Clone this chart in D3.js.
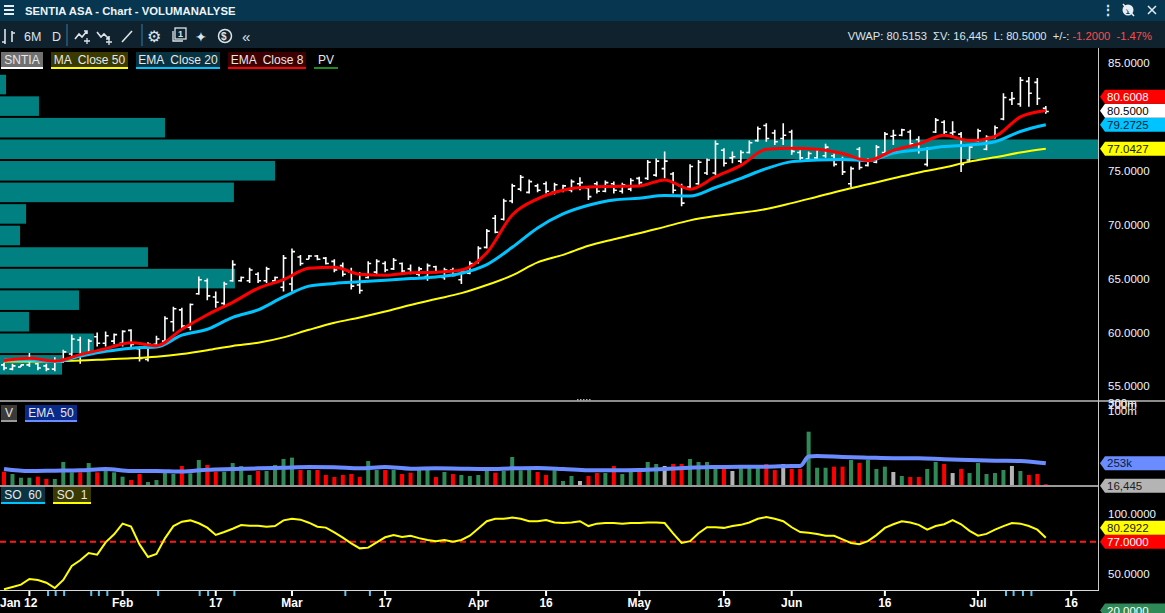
<!DOCTYPE html>
<html>
<head>
<meta charset="utf-8">
<script src="https://cdn.jsdelivr.net/npm/d3@7"></script>
<style>
  body { margin: 0; background: #000; overflow: hidden; }
  svg { display: block; }
  text { font-family: "Liberation Sans", Arial, sans-serif; white-space: pre; }
</style>
</head>
<body>
<div id="chart"></div>
<script>
// SENTIA ASA daily chart, 6M – bars indexed 0..123

const opens = [
  57.0,56.6,56.8,57.0,57.1,56.9,56.6,57.3,58.0,59.3,
  58.0,59.6,59.0,59.2,59.0,60.2,58.5,57.5,58.9,59.2,
  61.0,62.1,60.5,63.6,64.8,63.3,62.7,64.8,64.8,64.8,
  65.4,64.8,64.8,64.2,64.5,67.0,66.8,67.1,66.9,66.6,
  66.2,65.6,64.4,65.1,65.6,66.4,65.9,66.4,65.9,65.4,
  65.2,66.1,65.1,65.8,64.9,65.5,66.5,67.9,70.6,70.5,
  72.2,73.3,73.0,73.6,73.8,73.0,73.1,73.2,73.8,73.4,
  73.8,73.1,73.8,73.1,73.3,74.3,74.3,74.6,75.2,74.7,
  73.6,73.5,73.8,74.8,74.8,76.9,76.2,75.9,76.7,77.8,
  79.2,78.5,78.0,78.6,76.7,76.1,76.2,76.4,76.4,76.0,
  73.8,77.0,75.5,75.8,76.7,78.2,78.3,78.6,77.9,75.6,
  78.6,79.5,78.5,78.4,76.0,77.8,77.0,78.1,79.8,81.6,
  81.2,83.3,83.2,80.8
];
const highs = [
  57.2,57.1,57.0,58.1,57.2,57.1,57.7,58.4,59.8,59.6,
  59.4,60.0,60.1,59.9,60.2,60.3,58.7,59.1,59.7,61.5,
  62.4,62.3,62.7,65.2,65.0,63.8,64.7,66.7,65.2,66.0,
  65.6,66.1,65.2,67.2,67.8,67.2,67.2,67.2,67.0,66.8,
  66.5,66.0,65.6,66.6,66.8,66.6,66.9,66.5,66.3,66.1,
  66.4,66.2,66.0,66.0,65.9,66.6,68.0,69.6,70.9,72.4,
  73.8,74.6,74.2,73.8,74.0,73.9,73.7,74.2,74.4,73.6,
  74.0,74.1,74.0,73.9,74.3,74.45,76.0,76.15,76.8,74.9,
  73.8,75.6,76.0,76.15,77.8,77.1,76.8,76.9,77.8,79.1,
  79.4,78.8,79.4,78.8,76.9,76.8,77.1,77.5,76.6,76.3,
  75.4,77.2,76.15,77.4,78.6,78.8,78.9,78.8,78.2,77.2,
  79.9,79.7,79.6,78.6,77.4,78.9,78.3,79.2,82.2,82.3,
  83.7,83.7,83.6,81.0
];
const lows = [
  56.5,56.5,56.8,56.8,56.5,56.4,56.4,57.2,57.6,57.1,
  57.9,58.7,58.7,58.9,58.7,58.5,57.3,57.3,58.7,59.0,
  60.1,60.4,60.2,63.5,63.0,62.3,62.4,64.7,64.7,64.6,
  64.6,64.6,64.7,63.8,63.8,66.2,66.8,66.7,66.3,65.6,
  65.2,64.0,63.6,65.0,65.4,65.6,65.8,65.5,65.4,65.2,
  64.8,65.5,64.9,65.2,64.5,65.4,66.4,67.8,69.2,70.4,
  72.0,73.1,72.9,73.0,72.9,72.8,73.0,73.0,73.2,72.3,
  72.9,73.0,72.9,72.9,73.1,73.7,74.15,74.45,74.3,72.9,
  71.7,73.4,73.7,74.6,74.6,75.4,75.7,75.7,76.6,77.7,
  77.7,77.4,77.4,76.5,76.0,76.0,76.0,76.2,75.4,74.6,
  73.5,75.1,75.4,75.7,76.5,77.4,78.2,77.2,76.6,75.4,
  78.5,78.3,78.2,74.9,75.8,77.7,76.9,78.0,79.7,81.1,
  80.95,80.95,81.1,80.3
];
const closes = [
  56.7,56.9,57.0,57.6,56.7,56.6,57.3,58.2,59.4,57.8,
  59.2,59.0,59.7,59.8,60.1,58.9,57.6,58.9,59.4,61.3,
  62.2,60.6,62.6,64.9,63.4,62.8,64.5,66.3,65.1,65.8,
  64.8,65.9,65.1,66.9,67.5,66.4,67.1,66.8,66.4,65.8,
  65.4,64.3,63.9,66.4,66.6,65.8,66.7,65.7,65.5,65.9,
  66.2,65.6,65.8,65.3,65.7,66.4,67.8,69.4,69.3,72.2,
  73.6,74.4,74.0,73.2,73.1,73.7,73.6,74.0,73.9,72.6,
  73.1,73.9,73.2,73.7,74.1,73.9,75.8,75.9,75.9,73.2,
  72.0,75.4,75.8,76.0,77.5,75.7,76.3,76.7,77.6,78.9,
  78.0,77.7,78.3,76.8,76.2,76.6,76.9,77.2,75.6,74.9,
  75.2,75.3,76.0,77.2,78.4,78.3,78.8,77.5,76.9,77.0,
  79.7,78.6,78.6,75.6,77.2,78.7,78.1,79.0,81.8,81.7,
  83.4,82.2,81.7,80.5
];

// moving averages, read every third bar
const lineIdx = [0,3,6,9,12,15,18,21,24,27,30,33,36,39,42,45,48,51,54,57,60,63,66,69,72,75,78,81,84,87,90,93,96,99,102,105,108,111,114,117,120,123];
const ema8 = [57.4,57.6,57.35,57.95,58.5,59.05,58.78,60.3,61.65,62.8,64.1,64.9,65.95,66.05,65.4,65.3,65.55,65.6,65.8,67.4,70.9,72.4,73.2,73.5,73.55,73.6,74.15,73.3,74.45,75.5,77.0,77.1,77.0,76.6,75.95,76.9,77.5,78.3,77.8,78.2,80.0,80.6];
const ema20 = [57.45,57.45,57.3,57.8,58.25,58.55,58.65,59.75,60.3,61.4,62.1,63.3,64.3,64.55,64.7,64.85,65.0,65.15,65.5,66.3,67.9,69.7,71.0,71.8,72.3,72.45,72.7,72.66,73.45,74.3,75.2,75.85,76.0,76.05,75.94,76.65,76.95,77.25,77.4,77.7,78.65,79.27];
const ma50 = [57.3,57.3,57.35,57.4,57.5,57.6,57.75,58.0,58.35,58.75,59.05,59.55,60.25,60.9,61.4,61.95,62.55,63.1,63.65,64.4,65.3,66.5,67.2,68.05,68.65,69.2,69.8,70.4,70.8,71.1,71.45,72.0,72.6,73.2,73.75,74.3,74.85,75.3,75.85,76.25,76.7,77.04];

// volume (thousands) and up/down/unchanged flag per bar
const volumes = [
  158,132,90,90,102,76,76,268,151,151,
  256,151,177,151,102,64,132,42,64,151,
  132,222,140,290,234,158,158,256,222,121,
  166,166,234,302,317,177,177,177,121,98,
  121,132,98,279,177,177,177,132,147,189,
  189,98,155,132,121,110,121,174,147,166,
  324,174,189,155,121,174,53,110,53,110,
  143,143,223,132,166,166,268,245,223,245,
  245,302,268,268,211,211,166,211,211,211,
  245,177,245,189,189,610,203,203,215,215,
  290,256,290,189,215,155,110,98,98,189,
  268,245,143,189,143,256,132,143,177,223,
  166,121,132,16.445
];
const volDir = "rgggrrgggr" + "grgggrrggg" + "grggrrgggg" + "rggggrgrrr" + "rrrggrgrrg" +
               "grgrggggrg" + "gggrrgggnr" + "rgrggrggnr" + "rggggrnggg" + "rrnrrgggrr" +
               "grgggngrrg" + "grnrgggggn" + "grrr";
const volEmaIdx = [0,3,6,9,12,15,18,21,24,27,30,33,36,39,42,45,48,51,54,57,60,63,66,69,72,75,78,81,84,87,90,93,94,95,96,99,102,105,108,111,114,117,120,123];
const volEma = [189,166,170,174,189,166,166,159,181,189,196,204,211,208,196,211,192,196,192,189,196,200,189,174,174,177,189,204,211,215,215,223,223,330,336,325,317,310,310,298,291,283,279,253];

// stochastic oscillator
const stoch = [
  37.6,39.5,41.4,46.1,45.3,43.0,38.6,45.3,56.9,61.6,
  67.7,66.3,76.5,83.2,92.0,89.5,74.8,64.3,66.8,79.8,
  90.0,93.6,94.7,92.3,88.7,82.6,85.1,87.8,90.9,90.3,
  90.3,89.5,90.0,94.7,96.1,95.3,92.8,89.5,88.7,84.8,
  80.4,75.7,71.5,72.1,76.5,80.7,82.6,81,82,80,
  78.5,77.5,78.5,77,78.5,82,88,94,96,96,
  97,96,94,94,95,93,92.5,93,94,90,
  92,92.5,92.5,92,92.5,92.5,93,93,92.5,84,
  76,77.5,84,89,89,88.5,90,91,93,96,
  97.5,96,94,89,85,84.5,83.5,82,82,79,
  76,75,77.5,82.5,88.5,91.5,94,93,91,87,
  90,91.5,95,91.5,86,82,83.5,87,90,92.5,
  92,90,87,80.29
];

// price volume profile, 2 NOK bins
const pvLow = [56,58,60,62,64,66,68,70,72,74,76,78,80,82];
const pvVol = [226,342,106,288,856,539,73,95,852,1002,4000,601,142,22];

const tickIdx = [3,14,25,34,45,56,64,75,85,93,104,115,126];
const tickLabels = ["Jan 12","Feb","17","Mar","17","Apr","16","May","19","Jun","16","Jul","16"];
const newsIdx = [5.2,6.1,7.1,10.3,11.2,12.2,18.2,23.1,24.1,27.2,40.3,43.2,118.3,119.2,120.3,121.3];

const W = 1165, H = 613, plotR = 1098;

const x = d3.scaleLinear().domain([0, 123]).range([4, 1045.8]);
const y = d3.scaleLinear().domain([55, 85]).range([386.4, 63]);
const yVol = d3.scaleLinear().domain([0, 253]).range([485.7, 463.3]);
const ySo = d3.scaleLinear().domain([50, 100]).range([574.3, 514]);
const xPv = d3.scaleLinear().domain([0, 4000]).range([0, plotR]);

const svg = d3.select("#chart")
  .append("svg")
  .attr("width", W)
  .attr("height", H);

const defs = svg.append("defs");
const clip = (id, x0, y0, w, h) => defs.append("clipPath").attr("id", id)
  .append("rect").attr("x", x0).attr("y", y0).attr("width", w).attr("height", h);
clip("cPrice", 0, 48, plotR, 353);
clip("cVol", 0, 402, plotR, 84);
clip("cSo", 0, 487, plotR, 103);

svg.append("rect").attr("width", W).attr("height", H).attr("fill", "#000");

// ---- title bar and toolbar
svg.append("rect").attr("width", W).attr("height", 21).attr("fill", "#063650");
svg.append("rect").attr("y", 21).attr("width", W).attr("height", 27).attr("fill", "#0f222d");

[6, 10, 14].forEach(v => svg.append("rect").attr("x", 4).attr("y", v - 1).attr("width", 10).attr("height", 2).attr("fill", "#e6eef4"));
svg.append("text").attr("x", 25).attr("y", 15)
  .attr("font-family", "Open Sans").attr("font-weight", 700).attr("font-size", 11.3)
  .attr("fill", "#eef3f7").text("SENTIA ASA - Chart - VOLUMANALYSE");

const tb = svg.append("g").attr("stroke", "#dde4ea").attr("fill", "none").attr("stroke-width", 1.6);
tb.append("path").attr("d", "M5,29V44M2,42H5M12,31V42M12,33H15");
tb.append("path").attr("d", "M75,39L79,34L82,37L87,31M84,31H87V34");
tb.append("path").attr("d", "M84,41H90M87,38V44").attr("stroke-width", 1.3);
tb.append("path").attr("d", "M97,32L101,37L104,34L109,39M106,39H109V36");
tb.append("path").attr("d", "M106,42H112M109,39V45").attr("stroke-width", 1.3);
tb.append("path").attr("d", "M122,42L132,31");
tb.append("rect").attr("x", 175).attr("y", 28).attr("width", 11).attr("height", 11).attr("stroke-width", 1.3);
tb.append("path").attr("d", "M173,31V41H183").attr("stroke-width", 1.3);
tb.append("circle").attr("cx", 225).attr("cy", 36).attr("r", 6.5).attr("stroke-width", 1.5);
svg.append("rect").attr("x", 66).attr("y", 24).attr("width", 2).attr("height", 22).attr("fill", "#1f4f6c");
svg.append("rect").attr("x", 141).attr("y", 24).attr("width", 2).attr("height", 22).attr("fill", "#1f4f6c");

const tbText = (tx, ty, s, size, family) => svg.append("text").attr("x", tx).attr("y", ty)
  .attr("font-family", family || "Liberation Sans").attr("font-size", size).attr("fill", "#dde4ea").text(s);
tbText(24, 41, "6M", 12.5);
tbText(52, 41, "D", 12.5);
tbText(147, 42, "\u2699", 16, "DejaVu Sans");
tbText(178, 37, "1", 9, "DejaVu Sans").attr("font-weight", 700);
tbText(195, 42, "\u2726", 14, "DejaVu Sans");
tbText(221, 40, "$", 10, "DejaVu Sans").attr("font-weight", 700);
tbText(242, 42, "\u00ab", 15, "DejaVu Sans");
tbText(1101, 15, "\u22ee", 14, "DejaVu Sans").attr("font-weight", 700);
svg.append("circle").attr("cx", 1128).attr("cy", 10).attr("r", 5.5).attr("fill", "#e6eef4");
tbText(1125.5, 13.5, "1", 8, "DejaVu Sans").attr("fill", "#063650").attr("font-weight", 700);
svg.append("path").attr("d", "M1123,4L1134,16").attr("stroke", "#e6eef4").attr("stroke-width", 1.5);
svg.append("path").attr("d", "M1148,6L1156,14M1156,6L1148,14").attr("stroke", "#e6eef4").attr("stroke-width", 1.5);

const info = svg.append("text").attr("x", 1152).attr("y", 40).attr("text-anchor", "end")
  .attr("font-size", 11.2).attr("fill", "#dde4ea");
info.append("tspan").text("VWAP: 80.5153  \u03a3V: 16,445  L: 80.5000  +/-: ");
info.append("tspan").attr("fill", "#ff4a4a").text("-1.2000  -1.47%");

// ---- price panel
const price = svg.append("g").attr("clip-path", "url(#cPrice)");

price.append("g")
  .selectAll("rect")
  .data(d3.zip(pvLow, pvVol))
  .join("rect")
    .attr("x", 0)
    .attr("y", d => y(d[0] + 2) + 1)
    .attr("width", d => xPv(d[1]))
    .attr("height", d => y(d[0]) - y(d[0] + 2) - 2)
    .attr("fill", "#008080");

const bars = d3.range(opens.length).map(i => ({ i, o: opens[i], h: highs[i], l: lows[i], c: closes[i] }));
price.append("g")
  .attr("stroke", "#fff")
  .attr("stroke-width", 1.6)
  .selectAll("path")
  .data(bars)
  .join("path")
    .attr("d", d => `M${x(d.i)},${y(d.h)}V${y(d.l)}M${x(d.i) - 3},${y(d.o)}H${x(d.i)}M${x(d.i)},${y(d.c)}H${x(d.i) + 3}`);

const line = d3.line().x(d => x(d[0])).y(d => y(d[1])).curve(d3.curveMonotoneX);
[[ma50, "#ffff00", 2], [ema20, "#00c4ff", 3], [ema8, "#ff0000", 3]].forEach(([vals, col, w]) => {
  price.append("path")
    .datum(d3.zip(lineIdx, vals))
    .attr("fill", "none")
    .attr("stroke", col)
    .attr("stroke-width", w)
    .attr("stroke-linejoin", "round")
    .attr("d", line);
});

// legend boxes
function legendBox(g, bx, by, w, label, bg, under) {
  g.append("rect").attr("x", bx).attr("y", by).attr("width", w).attr("height", 15).attr("fill", bg);
  g.append("rect").attr("x", bx).attr("y", by + 15).attr("width", w).attr("height", 2).attr("fill", under);
  g.append("text").attr("x", bx + w / 2).attr("y", by + 12).attr("text-anchor", "middle")
    .attr("font-size", 12).attr("fill", "#e8e8e8").text(label);
}
const leg = svg.append("g");
legendBox(leg, 1, 52, 42, "SNTIA", "#707070", "#ffffff");
legendBox(leg, 51, 52, 77, "MA  Close 50", "#3a3a00", "#ffff00");
legendBox(leg, 136, 52, 84, "EMA  Close 20", "#07323f", "#00c4ff");
legendBox(leg, 228, 52, 78, "EMA  Close 8", "#3c0000", "#ff0000");
legendBox(leg, 314, 52, 24, "PV", "#000000", "#1c8c1c");
legendBox(leg, 1, 405, 16, "V", "#3a3a3a", "#9a9a9a");
legendBox(leg, 25, 405, 52, "EMA  50", "#0a2a8a", "#6b8cff");
legendBox(leg, 1, 487, 44, "SO  60", "#0b3443", "#00c4ff");
legendBox(leg, 53, 487, 38, "SO  1", "#3a3a00", "#ffff00");

// ---- volume panel
const vol = svg.append("g").attr("clip-path", "url(#cVol)");
const volColor = { r: "#ff0000", g: "#2e8b57", n: "#b4b4b4" };
vol.append("g")
  .selectAll("rect")
  .data(volumes)
  .join("rect")
    .attr("x", (d, i) => x(i) - 2)
    .attr("y", d => yVol(d))
    .attr("width", 4)
    .attr("height", d => yVol(0) - yVol(d))
    .attr("fill", (d, i) => volColor[volDir[i]]);

vol.append("path")
  .datum(d3.zip(volEmaIdx, volEma))
  .attr("fill", "none")
  .attr("stroke", "#6b8cff")
  .attr("stroke-width", 4)
  .attr("d", d3.line().x(d => x(d[0])).y(d => yVol(d[1])).curve(d3.curveMonotoneX));

// ---- stochastic panel
const so = svg.append("g").attr("clip-path", "url(#cSo)");
so.append("line")
  .attr("x1", 0).attr("x2", plotR)
  .attr("y1", ySo(77)).attr("y2", ySo(77))
  .attr("stroke", "#ff1a1a").attr("stroke-width", 2).attr("stroke-dasharray", "6,4");
so.append("path")
  .datum(stoch)
  .attr("fill", "none")
  .attr("stroke", "#ffff00")
  .attr("stroke-width", 2)
  .attr("d", d3.line().x((d, i) => x(i)).y(d => ySo(d)));

// ---- separators and axes frame
svg.append("rect").attr("x", 0).attr("y", 400).attr("width", W).attr("height", 2).attr("fill", "#8c8c8c");
svg.append("rect").attr("x", 0).attr("y", 485).attr("width", plotR).attr("height", 2).attr("fill", "#9a9a9a");
[577, 580, 583, 586, 589].forEach(v => svg.append("rect").attr("x", v).attr("y", 399).attr("width", 1.5).attr("height", 1.5).attr("fill", "#b0b0b0"));
svg.append("line").attr("x1", plotR + 0.5).attr("x2", plotR + 0.5).attr("y1", 48).attr("y2", 590.5)
  .attr("stroke", "#c8c8c8").attr("stroke-width", 1);
svg.append("line").attr("x1", 0).attr("x2", plotR + 1).attr("y1", 590.5).attr("y2", 590.5)
  .attr("stroke", "#d8d8d8").attr("stroke-width", 1.2);

// right axis labels
const axisText = (ty, s) => svg.append("text").attr("x", 1108).attr("y", ty).attr("dy", "0.35em")
  .attr("font-size", 11.5).attr("fill", "#eef4ff").text(s);
[85, 75, 70, 65, 60, 55].forEach(v => axisText(y(v), d3.format(".4f")(v)));
[100, 50].forEach(v => axisText(ySo(v), d3.format(".4f")(v)));
// the volume scale labels sit on top of each other in the original
[["300m", 403], ["200m", 405], ["100m", 411]].forEach(([s, ty]) => axisText(ty, s));

// value tags with simple collision push-up
function drawTags(list) {
  list.sort((a, b) => b.y - a.y);
  for (let k = 1; k < list.length; k++) {
    if (list[k].y > list[k - 1].y - 14) list[k].y = list[k - 1].y - 14;
  }
  list.forEach(t => {
    const h = 7;
    svg.append("path")
      .attr("d", `M1100,${t.y}L1105,${t.y - h}H1165V${t.y + h}H1105Z`)
      .attr("fill", t.bg);
    svg.append("text").attr("x", 1107).attr("y", t.y).attr("dy", "0.36em")
      .attr("font-size", 11.5).attr("fill", t.fg).text(t.text);
  });
}
drawTags([
  { y: y(80.6008), text: "80.6008", bg: "#ff0000", fg: "#ffffff" },
  { y: y(80.5), text: "80.5000", bg: "#ffffff", fg: "#000000" },
  { y: y(79.2725), text: "79.2725", bg: "#00c4ff", fg: "#002030" },
  { y: y(77.0427), text: "77.0427", bg: "#ffff00", fg: "#202000" }
]);
drawTags([
  { y: yVol(253), text: "253k", bg: "#6b8cff", fg: "#0a1a40" },
  { y: yVol(0), text: "16,445", bg: "#b4b4b4", fg: "#202020" }
]);
drawTags([
  { y: ySo(80.2922), text: "80.2922", bg: "#ffff00", fg: "#202000" },
  { y: ySo(77), text: "77.0000", bg: "#ff0000", fg: "#ffffff" }
]);
drawTags([{ y: ySo(20), text: "20.0000", bg: "#2e8b57", fg: "#ffffff" }]);

// bottom time axis
svg.append("g")
  .selectAll("rect")
  .data(newsIdx)
  .join("rect")
    .attr("x", d => x(d) - 1).attr("y", 591).attr("width", 2).attr("height", 5)
    .attr("fill", "#5cc2ee");
svg.append("g")
  .selectAll("rect")
  .data(tickIdx)
  .join("rect")
    .attr("x", d => x(d) - 1).attr("y", 591).attr("width", 2).attr("height", 5)
    .attr("fill", "#ffffff");
svg.append("g")
  .selectAll("text")
  .data(d3.zip(tickIdx, tickLabels))
  .join("text")
    .attr("x", (d, i) => i === 0 ? 0 : x(d[0]))
    .attr("y", 607)
    .attr("text-anchor", (d, i) => i === 0 ? "start" : "middle")
    .attr("font-size", 12)
    .attr("font-weight", 700)
    .attr("fill", "#ffffff")
    .text(d => d[1]);
</script>
</body>
</html>
